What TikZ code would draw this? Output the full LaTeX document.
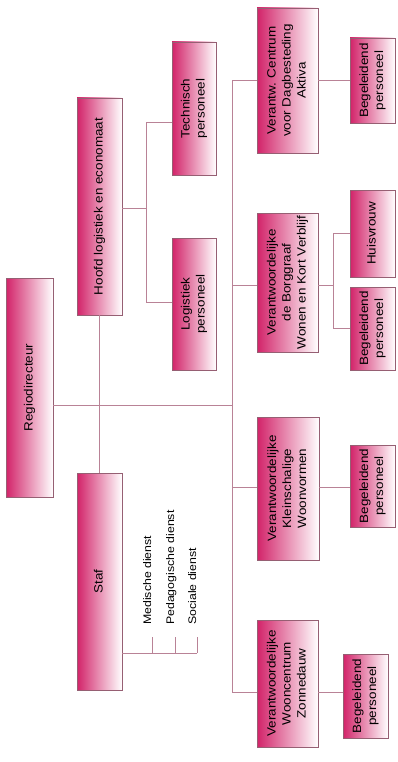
\documentclass[tikz,border=0pt]{standalone}
\usepackage{fontspec}
\setmainfont{Liberation Sans}
\newfontfamily\boxfont[FakeStretch=1.12]{Liberation Sans}
\definecolor{mag}{RGB}{210,35,105}
\definecolor{edgec}{RGB}{150,95,115}
\definecolor{wirec}{RGB}{185,130,150}
\newcommand{\rt}[1]{\rotatebox{90}{\begin{tabular}{@{}c@{}}#1\end{tabular}}}
\begin{document}
\begin{tikzpicture}[x=1pt,y=-1pt,
  orgbox/.style={draw=edgec, line width=0.6pt, left color=mag, middle color=mag!22, right color=white,
    rectangle, inner sep=0pt, font=\boxfont\fontsize{12}{15}\selectfont},
  wire/.style={draw=wirec, line width=0.8pt},
  listtext/.style={rotate=90, anchor=base west, inner sep=0pt, font=\boxfont\fontsize{11}{13}\selectfont}]
\path[fill=white, use as bounding box] (0,0) rectangle (398,762);

% boxes
\node[orgbox, minimum width=47pt, minimum height=219pt] (regio) at (29.5,387.5) {\rt{Regiodirecteur}};
\node[orgbox, minimum width=45pt, minimum height=217pt] (hoofd) at (99.5,206.5) {\rt{Hoofd logistiek en economaat}};
\node[orgbox, minimum width=45pt, minimum height=217pt] (staf) at (99.5,581.5) {\rt{Staf}};
\node[orgbox, minimum width=44pt, minimum height=133pt] (tech) at (194,108.5) {\rt{Technisch\\personeel}};
\node[orgbox, minimum width=44pt, minimum height=132pt] (logi) at (194,304) {\rt{Logistiek\\personeel}};
\node[orgbox, minimum width=61pt, minimum height=145pt] (centrum) at (287.5,80.5) {\rt{Verantw. Centrum\\voor Dagbesteding\\Aktiva}};
\node[orgbox, minimum width=45pt, minimum height=85pt] (beg1) at (372.5,80.5) {\rt{Begeleidend\\personeel}};
\node[orgbox, minimum width=61pt, minimum height=139pt] (borg) at (287.5,282.5) {\rt{Verantwoordelijke\\de Borggraaf\\Wonen en Kort Verblijf}};
\node[orgbox, minimum width=45pt, minimum height=87pt] (huis) at (372.5,233.5) {\rt{Huisvrouw}};
\node[orgbox, minimum width=45pt, minimum height=83pt] (beg2) at (372.5,328.5) {\rt{Begeleidend\\personeel}};
\node[orgbox, minimum width=62pt, minimum height=143pt] (klein) at (288,488.5) {\rt{Verantwoordelijke\\Kleinschalige\\Woonvormen}};
\node[orgbox, minimum width=45pt, minimum height=82pt] (beg3) at (372.5,486) {\rt{Begeleidend\\personeel}};
\node[orgbox, minimum width=61pt, minimum height=127pt] (zonne) at (287.5,683.5) {\rt{Verantwoordelijke\\Wooncentrum\\Zonnedauw}};
\node[orgbox, minimum width=45pt, minimum height=84pt] (beg4) at (365.5,696) {\rt{Begeleidend\\personeel}};

% junction coordinates
\coordinate (mtop) at (232,80.5);
\coordinate (mreg) at (232,405);
\coordinate (mborg) at (232,285);
\coordinate (mklein) at (232,487.5);
\coordinate (mbot) at (232,692);
\coordinate (hj) at (146,208);
\coordinate (hjt) at (146,122);
\coordinate (hjb) at (146,302);
\coordinate (bj) at (333,285);
\coordinate (t1) at (152,653);
\coordinate (t2) at (175,653);
\coordinate (t3) at (197,653);
\coordinate (u1) at (152,637);
\coordinate (u2) at (175,637);
\coordinate (u3) at (197,637);

% connectors
\draw[wire] (mtop) -- (mbot);
\draw[wire] (regio.east |- mreg) -- (mreg);
\draw[wire] (hoofd.south) -- (staf.north);
\draw[wire] (hoofd.east |- hj) -- (hj);
\draw[wire] (tech.west |- hjt) -- (hjt) -- (hjb) -- (logi.west |- hjb);
\draw[wire] (mtop) -- (centrum.west |- mtop);
\draw[wire] (centrum.east |- mtop) -- (beg1.west |- mtop);
\draw[wire] (mborg) -- (borg.west |- mborg);
\draw[wire] (borg.east |- bj) -- (bj);
\draw[wire] (huis.west) -- (huis.west -| bj) -- (beg2.west -| bj) -- (beg2.west);
\draw[wire] (mklein) -- (klein.west |- mklein);
\draw[wire] (klein.east |- mklein) -- (beg3.west |- mklein);
\draw[wire] (mbot) -- (zonne.west |- mbot);
\draw[wire] (zonne.east |- mbot) -- (beg4.west |- mbot);
\draw[wire] (staf.east |- t1) -- (t3);
\draw[wire] (t1) -- (u1);
\draw[wire] (t2) -- (u2);
\draw[wire] (t3) -- (u3);

% staff list
\node[listtext] (med) at (151,625) {Medische dienst};
\node[listtext] (ped) at (174,625) {Pedagogische dienst};
\node[listtext] (soc) at (196,625) {Sociale dienst};
\end{tikzpicture}
\end{document}
